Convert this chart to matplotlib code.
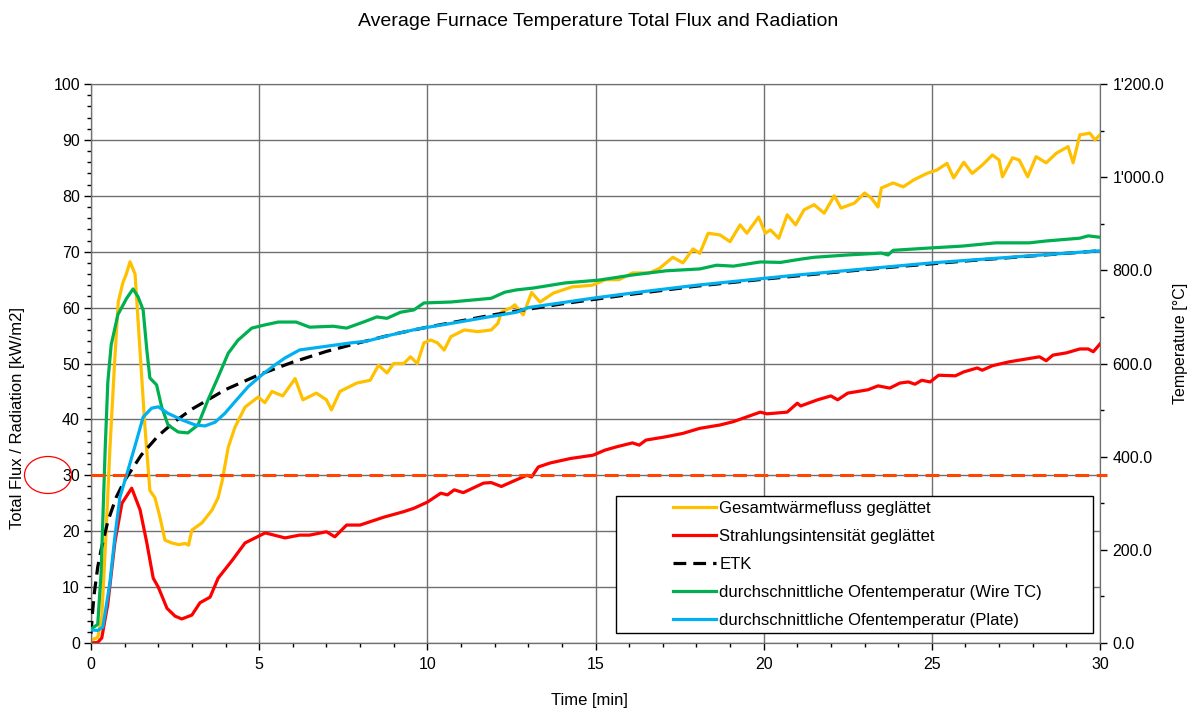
import matplotlib
matplotlib.use("Agg")
import matplotlib.pyplot as plt
from matplotlib.ticker import MultipleLocator, FuncFormatter
from matplotlib.patches import Ellipse, Rectangle

plt.rcParams['font.family'] = ['Liberation Sans', 'DejaVu Sans']

# ---------------- data ----------------
flux_t = [0, 0.2, 0.32, 0.45, 0.56, 0.7, 0.81, 0.95, 1.05, 1.16,
          1.31, 1.46, 1.6, 1.75, 1.9, 2.05, 2.2, 2.4, 2.6, 2.8,
          2.9, 3.0, 3.3, 3.6, 3.78, 3.9, 4.08, 4.28, 4.58, 4.97,
          5.17, 5.38, 5.7, 6.07, 6.3, 6.7, 7.0, 7.15, 7.4, 7.9,
          8.3, 8.55, 8.8, 9.0, 9.3, 9.5, 9.7, 9.9, 10.1, 10.3,
          10.5, 10.7, 11.1, 11.5, 11.9, 12.1, 12.2, 12.5, 12.6, 12.85,
          13.1, 13.35, 13.75, 14.3, 14.9, 15.3, 15.7, 16.1, 16.6, 16.9,
          17.3, 17.6, 17.9, 18.1, 18.35, 18.7, 19.0, 19.3, 19.5, 19.85,
          20.05, 20.2, 20.45, 20.7, 20.95, 21.2, 21.5, 21.8, 22.1, 22.3,
          22.7, 23.0, 23.2, 23.4, 23.5, 23.85, 24.15, 24.45, 24.85, 25.15,
          25.45, 25.65, 25.95, 26.2, 26.5, 26.8, 27.0, 27.1, 27.4, 27.6,
          27.85, 28.1, 28.4, 28.7, 29.05, 29.2, 29.4, 29.7, 29.85, 30.0]
flux_v = [0.5, 1.0, 4.6, 20, 34.5, 50, 61, 64.5, 66, 68.2,
          66, 52, 39, 27.3, 26, 22.5, 18.4, 17.9, 17.6, 17.8,
          17.5, 20.2, 21.5, 23.8, 26, 29, 35, 38.6, 42.2, 44,
          43, 45, 44.2, 47.3, 43.5, 44.7, 43.5, 41.7, 45, 46.5,
          47, 49.7, 48.3, 50, 50, 51.2, 50, 53.7, 54.2, 53.7,
          52.4, 54.8, 56, 55.7, 56, 57.2, 59.2, 60, 60.5, 58.7,
          62.7, 61, 62.6, 63.7, 64, 65, 65, 66.2, 66.2, 67,
          69, 68, 70.5, 69.7, 73.3, 73, 71.8, 74.8, 73.3, 76.2,
          73.3, 73.9, 72.4, 76.6, 74.8, 77.5, 78.4, 76.9, 80, 77.8,
          78.7, 80.5, 79.6, 78, 81.4, 82.3, 81.6, 82.8, 84, 84.6,
          85.8, 83.2, 86, 84, 85.5, 87.3, 86.4, 83.4, 86.8, 86.4,
          83.4, 87, 85.9, 87.6, 88.8, 85.9, 90.9, 91.2, 90, 90.9]

rad_t = [0, 0.2, 0.32, 0.5, 0.71, 0.92, 1.21, 1.46, 1.66, 1.85,
         2.0, 2.26, 2.5, 2.7, 3.0, 3.24, 3.54, 3.78, 4.2, 4.58,
         5.18, 5.77, 6.2, 6.5, 7.0, 7.25, 7.6, 8.0, 8.7, 9.3,
         9.6, 10.0, 10.4, 10.6, 10.8, 11.07, 11.67, 11.9, 12.2, 12.65,
         12.96, 13.1, 13.3, 13.65, 14.25, 14.93, 15.28, 15.63, 16.1, 16.3,
         16.5, 17.1, 17.6, 18.1, 18.7, 19.1, 19.9, 20.1, 20.7, 21.0,
         21.1, 21.6, 22.0, 22.2, 22.5, 23.1, 23.4, 23.75, 24.05, 24.3,
         24.5, 24.7, 24.95, 25.2, 25.7, 25.95, 26.35, 26.5, 26.8, 27.3,
         28.0, 28.2, 28.4, 28.6, 29.0, 29.4, 29.65, 29.8, 30.0]
rad_v = [0, 0.1, 0.9, 7, 18, 25, 27.7, 23.8, 17.9, 11.6,
         10, 6.2, 4.8, 4.3, 5, 7.2, 8.2, 11.6, 14.8, 17.9,
         19.7, 18.8, 19.3, 19.3, 19.9, 19, 21.1, 21.1, 22.5, 23.5,
         24.1, 25.2, 26.8, 26.5, 27.4, 26.9, 28.6, 28.7, 28, 29.2,
         30, 29.7, 31.5, 32.2, 33, 33.6, 34.5, 35.1, 35.8, 35.4,
         36.3, 36.9, 37.5, 38.4, 39, 39.6, 41.3, 41, 41.3, 42.9,
         42.4, 43.5, 44.2, 43.5, 44.7, 45.3, 46, 45.6, 46.5, 46.7,
         46.3, 47, 46.7, 47.9, 47.8, 48.5, 49.2, 48.8, 49.6, 50.3,
         51, 51.2, 50.5, 51.5, 51.9, 52.6, 52.6, 52.1, 53.5]

etk_t = [0, 0.05, 0.1, 0.2, 0.3, 0.5, 0.75, 1, 1.5, 2,
         2.5, 3, 4, 5, 6, 7, 8, 9, 10, 12,
         14, 16, 18, 20, 22, 24, 26, 28, 30]
etk_v = [20, 70, 108, 163, 200, 261, 313, 349, 404, 445,
         476, 502, 544, 576, 603, 626, 645, 663, 678, 705,
         728, 748, 766, 781, 795, 808, 820, 831, 842]

wire_t = [0, 0.2, 0.3, 0.42, 0.5, 0.6, 0.8, 1.06, 1.25, 1.4,
          1.55, 1.66, 1.75, 1.95, 2.1, 2.29, 2.59, 2.88, 3.18, 3.48,
          3.78, 4.08, 4.37, 4.78, 5.18, 5.57, 6.1, 6.5, 7.2, 7.6,
          8.1, 8.5, 8.8, 9.2, 9.6, 9.9, 10.7, 11.3, 11.9, 12.3,
          12.65, 13.15, 14.1, 15.1, 16.1, 17.1, 18.1, 18.6, 19.1, 19.9,
          20.5, 21.1, 21.5, 22.5, 23.5, 23.7, 23.85, 24.95, 25.9, 26.9,
          27.9, 28.4, 29.4, 29.65, 30.0]
wire_v = [30, 40, 150, 414, 560, 640, 705, 740, 760, 743,
          715, 629, 569, 554, 507, 468, 453, 451, 468, 522,
          571, 622, 650, 676, 683, 689, 689, 678, 680, 676,
          689, 700, 697, 710, 715, 730, 732, 736, 740, 753,
          758, 762, 773, 779, 790, 799, 803, 811, 809, 818,
          817, 824, 828, 833, 837, 833, 843, 848, 852, 859,
          859, 863, 869, 874, 871]

plate_t = [0, 0.2, 0.35, 0.42, 0.56, 0.71, 0.86, 1.1, 1.36, 1.55,
           1.8, 2.0, 2.29, 2.7, 3.1, 3.39, 3.69, 3.98, 4.28, 4.67,
           5.07, 5.47, 5.77, 6.2, 6.9, 7.7, 8.2, 8.9, 9.7, 10.7,
           11.66, 12.65, 13.0, 15.0, 16.5, 18.0, 21.0, 23.0, 25.0, 27.5,
           30.0]
plate_v = [28, 27, 34, 64, 129, 228, 313, 371, 436, 485,
           504, 507, 493, 479, 468, 466, 474, 493, 518, 550,
           575, 597, 612, 629, 636, 644, 648, 661, 674, 686,
           698, 710, 720, 741, 755, 768, 790, 803, 816, 829,
           842]

limit_value = 30

labels = ["Gesamtwärmefluss geglättet", "Strahlungsintensität geglättet", "ETK",
          "durchschnittliche Ofentemperatur (Wire TC)",
          "durchschnittliche Ofentemperatur (Plate)"]
colors = ["#FFC000", "#FF0000", "#000000", "#00B050", "#00B0F0"]

# ---------------- figure ----------------
W, H = 1197, 709
fig = plt.figure(figsize=(W / 100, H / 100), dpi=100)
L, R, T, B = 91, 1100, 84, 643
ax = fig.add_axes([L / W, 1 - B / H, (R - L) / W, (B - T) / H])
ax2 = ax.twinx()

grid_c = "#707070"
ax.set_xlim(0, 30)
ax.set_ylim(0, 100)
ax2.set_ylim(0, 1200)

ax.xaxis.set_major_locator(MultipleLocator(5))
ax.xaxis.set_minor_locator(MultipleLocator(1))
ax.yaxis.set_major_locator(MultipleLocator(10))
ax.yaxis.set_minor_locator(MultipleLocator(2))
ax2.yaxis.set_major_locator(MultipleLocator(200))
ax2.yaxis.set_minor_locator(MultipleLocator(100))
ax2.yaxis.set_major_formatter(FuncFormatter(lambda v, p: f"{v:,.1f}".replace(",", "'")))

ax.grid(True, which="major", color=grid_c, lw=1.0)
ax.set_axisbelow(True)

for a in (ax, ax2):
    a.tick_params(which="major", direction="out", length=5, width=1, labelsize=11.5, colors="black")
    a.tick_params(which="minor", direction="out", length=3, width=1, colors="black")
    for s in a.spines.values():
        s.set_color(grid_c)
ax.spines["left"].set_color("black")
ax.spines["bottom"].set_color("black")
ax.tick_params(axis="x", pad=5)
ax.tick_params(axis="y", pad=3)
ax2.tick_params(axis="y", pad=4)

lw = 2.3
l1, = ax.plot(flux_t, flux_v, color=colors[0], lw=lw, label=labels[0], zorder=3)
l2, = ax.plot(rad_t, rad_v, color=colors[1], lw=lw, label=labels[1], zorder=3)
l3, = ax2.plot(etk_t, etk_v, color=colors[2], lw=2.3, ls=(0, (4, 2.2)), label=labels[2], zorder=3)
l4, = ax2.plot(wire_t, wire_v, color=colors[3], lw=lw, label=labels[3], zorder=3)
l5, = ax2.plot(plate_t, plate_v, color=colors[4], lw=lw, label=labels[4], zorder=3)

# limit line at 30 kW/m2
ax2.plot([0, 30.2], [limit_value * 12, limit_value * 12], color="#FF4500", lw=2.2,
         ls=(0, (4.5, 2.5)), clip_on=False, zorder=4)

# legend box
rect = Rectangle(((616 - L) / (R - L), (B - 633) / (B - T)), (1093 - 616) / (R - L),
                 (633 - 496) / (B - T), transform=ax2.transAxes, facecolor="white",
                 edgecolor="black", lw=1.0, zorder=5)
ax2.add_patch(rect)
leg = ax2.legend(handles=[l1, l2, l3, l4, l5], loc="upper left",
                 bbox_to_anchor=((673 - L) / (R - L), (B - 501) / (B - T)),
                 frameon=False, fontsize=12, borderpad=0, borderaxespad=0,
                 handlelength=2.6, handletextpad=0.18, labelspacing=0.78)
leg.set_zorder(6)

# circle around 30
fig.add_artist(Ellipse((48 / W, 1 - 475 / H), 47 / W, 37 / H, transform=fig.transFigure,
                       fill=False, edgecolor="#FF0000", lw=0.9))

fig.text(0.5, 1 - 21 / H, "Average Furnace Temperature Total Flux and Radiation",
         ha="center", va="center", fontsize=14)
fig.text(589 / W, 1 - 701 / H, "Time [min]", ha="center", va="center", fontsize=12)
fig.text(18 / W, 1 - 418 / H, "Total Flux / Radiation [kW/m2]", ha="center", va="center",
         rotation=90, fontsize=12)
fig.text(1180 / W, 1 - 343 / H, "Temperature [°C]", ha="center", va="center",
         rotation=90, fontsize=11.5)

fig.savefig("out.png", dpi=100)
